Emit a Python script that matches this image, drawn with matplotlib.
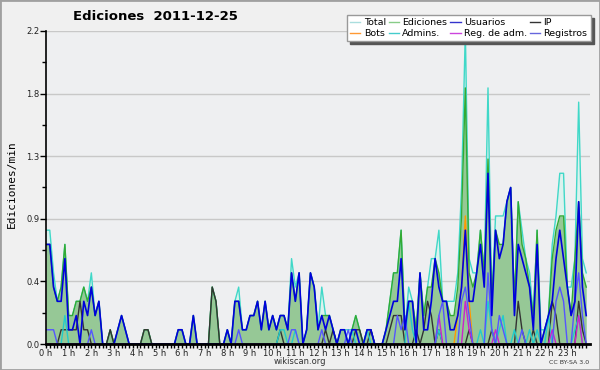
import numpy as np
import matplotlib.pyplot as plt
from matplotlib.lines import Line2D
from matplotlib.patches import Rectangle

# Ediciones por minuto, intervalos de 10 minutos (144 por dia)
total = [0.8, 0.8, 0.5, 0.3, 0.4, 0.7, 0.2, 0.2, 0.3, 0.3, 0.4, 0.3,
         0.5, 0.2, 0.3, 0, 0, 0.1, 0, 0.1, 0.2, 0.1, 0, 0,
         0, 0, 0.1, 0.1, 0, 0, 0, 0, 0, 0, 0, 0.1,
         0.1, 0, 0, 0.2, 0, 0, 0, 0, 0.4, 0.3, 0, 0,
         0.1, 0, 0.3, 0.4, 0.1, 0.1, 0.2, 0.2, 0.3, 0.1, 0.3, 0.1,
         0.2, 0.1, 0.2, 0.2, 0.1, 0.6, 0.4, 0.5, 0, 0.1, 0.5, 0.4,
         0.1, 0.4, 0.2, 0.2, 0.1, 0, 0.1, 0.1, 0.1, 0.1, 0.2, 0.1,
         0, 0.1, 0.1, 0, 0, 0, 0.1, 0.3, 0.5, 0.5, 0.8, 0.1,
         0.4, 0.3, 0.1, 0.5, 0.2, 0.4, 0.6, 0.6, 0.8, 0.3, 0.3, 0.3,
         0.3, 0.5, 1.1, 2.2, 0.6, 0.5, 0.5, 0.8, 0.5, 1.8, 0.3, 0.9,
         0.9, 0.9, 1.0, 1.1, 0.3, 1.0, 0.8, 0.6, 0.5, 0.2, 0.8, 0.1,
         0.1, 0.2, 0.7, 0.9, 1.2, 1.2, 0.4, 0.4, 0.6, 1.7, 0.6, 0.5]

ediciones = [0.7, 0.7, 0.4, 0.3, 0.4, 0.7, 0.2, 0.2, 0.3, 0.3, 0.4, 0.3,
             0.4, 0.2, 0.3, 0, 0, 0.1, 0, 0.1, 0.2, 0.1, 0, 0,
             0, 0, 0.1, 0.1, 0, 0, 0, 0, 0, 0, 0, 0.1,
             0.1, 0, 0, 0.2, 0, 0, 0, 0, 0.4, 0.3, 0, 0,
             0.1, 0, 0.3, 0.3, 0.1, 0.1, 0.2, 0.2, 0.3, 0.1, 0.3, 0.1,
             0.2, 0.1, 0.2, 0.2, 0.1, 0.5, 0.3, 0.5, 0, 0.1, 0.5, 0.4,
             0.1, 0.2, 0.2, 0.2, 0.1, 0, 0.1, 0.1, 0, 0.1, 0.2, 0.1,
             0, 0.1, 0.1, 0, 0, 0, 0.1, 0.3, 0.5, 0.5, 0.8, 0.1,
             0.3, 0.3, 0.1, 0.5, 0.2, 0.4, 0.4, 0.6, 0.5, 0.3, 0.3, 0.2,
             0.2, 0.4, 0.9, 1.8, 0.5, 0.4, 0.5, 0.8, 0.5, 1.3, 0.3, 0.8,
             0.7, 0.7, 1.0, 1.1, 0.3, 1.0, 0.7, 0.6, 0.4, 0.2, 0.8, 0,
             0.1, 0.2, 0.6, 0.8, 0.9, 0.9, 0.4, 0.2, 0.6, 1.0, 0.5, 0.4]

usuarios = [0.7, 0.7, 0.4, 0.3, 0.3, 0.6, 0.1, 0.1, 0.2, 0, 0.3, 0.2,
            0.4, 0.2, 0.3, 0, 0, 0, 0, 0.1, 0.2, 0.1, 0, 0,
            0, 0, 0, 0, 0, 0, 0, 0, 0, 0, 0, 0.1,
            0.1, 0, 0, 0.2, 0, 0, 0, 0, 0, 0, 0, 0,
            0.1, 0, 0.3, 0.3, 0.1, 0.1, 0.2, 0.2, 0.3, 0.1, 0.3, 0.1,
            0.2, 0.1, 0.2, 0.2, 0.1, 0.5, 0.3, 0.5, 0, 0.1, 0.5, 0.4,
            0.1, 0.2, 0.1, 0.2, 0.1, 0, 0.1, 0.1, 0, 0.1, 0.1, 0,
            0, 0.1, 0.1, 0, 0, 0, 0.1, 0.2, 0.3, 0.3, 0.6, 0.1,
            0.3, 0.3, 0, 0.5, 0.1, 0.1, 0.3, 0.6, 0.4, 0.3, 0.3, 0.1,
            0.1, 0.2, 0.4, 0.8, 0.3, 0.3, 0.5, 0.7, 0.4, 1.2, 0.2, 0.8,
            0.6, 0.7, 1.0, 1.1, 0.2, 0.7, 0.6, 0.5, 0.4, 0.1, 0.7, 0,
            0.1, 0.2, 0.3, 0.6, 0.8, 0.6, 0.4, 0.2, 0.3, 1.0, 0.4, 0.2]

ip = [0, 0, 0, 0, 0.1, 0.1, 0.1, 0.1, 0.1, 0.3, 0.1, 0.1,
      0, 0, 0, 0, 0, 0.1, 0, 0, 0, 0, 0, 0,
      0, 0, 0.1, 0.1, 0, 0, 0, 0, 0, 0, 0, 0,
      0, 0, 0, 0, 0, 0, 0, 0, 0.4, 0.3, 0, 0,
      0, 0, 0, 0, 0, 0, 0, 0, 0, 0, 0, 0,
      0, 0, 0.1, 0, 0, 0, 0, 0, 0, 0, 0, 0,
      0, 0, 0.1, 0, 0.1, 0, 0, 0, 0, 0, 0.1, 0.1,
      0, 0, 0.1, 0, 0, 0, 0, 0.1, 0.2, 0.2, 0.2, 0,
      0, 0, 0.1, 0, 0.1, 0.3, 0.2, 0, 0.1, 0, 0, 0,
      0, 0, 0, 0, 0.1, 0, 0, 0, 0, 0, 0.1, 0,
      0, 0, 0, 0, 0, 0.3, 0.1, 0, 0, 0.1, 0, 0,
      0, 0, 0.3, 0.2, 0, 0, 0, 0, 0, 0.3, 0.1, 0]

bots = [0] * 108 + [0, 0.2, 0.4, 0.9, 0.3, 0, 0, 0, 0, 0, 0, 0] + [0] * 24

admins = [0, 0, 0, 0, 0, 0.2, 0, 0, 0, 0, 0, 0,
          0, 0, 0, 0, 0, 0, 0, 0, 0, 0, 0, 0,
          0, 0, 0, 0, 0, 0, 0, 0, 0, 0, 0, 0,
          0, 0, 0, 0, 0, 0, 0, 0, 0, 0, 0, 0,
          0, 0, 0, 0, 0, 0, 0, 0, 0, 0, 0, 0,
          0, 0, 0.1, 0.1, 0, 0, 0.1, 0, 0, 0, 0, 0,
          0, 0, 0, 0, 0, 0, 0, 0, 0, 0.1, 0, 0,
          0, 0.1, 0, 0, 0, 0, 0, 0, 0, 0, 0, 0,
          0.3, 0.1, 0, 0, 0, 0, 0, 0, 0.1, 0, 0, 0,
          0, 0, 0, 0, 0, 0, 0, 0.1, 0, 0.3, 0.1, 0,
          0.1, 0.2, 0, 0, 0.1, 0, 0, 0, 0.1, 0, 0.1, 0,
          0, 0.2, 0, 0, 0, 0, 0, 0, 0.1, 0.2, 0, 0]

reg_adm = ([0] * 96 +
           [0, 0, 0, 0, 0, 0, 0, 0, 0.2, 0, 0, 0,
            0, 0, 0, 0.3, 0.1, 0, 0, 0, 0, 0, 0, 0.1,
            0, 0, 0, 0, 0, 0, 0, 0, 0, 0, 0, 0,
            0, 0, 0.1, 0, 0, 0, 0, 0, 0, 0.2, 0, 0])

registros = [0.1, 0.1, 0.1, 0, 0, 0, 0, 0, 0, 0, 0, 0,
             0.1, 0, 0, 0, 0, 0, 0, 0, 0, 0, 0, 0,
             0, 0, 0, 0, 0, 0, 0, 0, 0, 0, 0, 0,
             0, 0, 0, 0, 0, 0, 0, 0, 0, 0, 0, 0,
             0, 0, 0, 0.1, 0, 0, 0, 0, 0, 0, 0, 0,
             0, 0, 0, 0, 0, 0.1, 0.1, 0, 0, 0, 0, 0,
             0, 0.1, 0, 0, 0, 0, 0, 0, 0.1, 0, 0, 0,
             0, 0, 0, 0, 0, 0, 0, 0, 0, 0.2, 0.1, 0.2,
             0, 0, 0, 0, 0, 0, 0, 0, 0.2, 0.3, 0, 0,
             0, 0, 0.3, 0.4, 0.2, 0, 0, 0, 0, 0.5, 0.1, 0,
             0.2, 0.1, 0, 0, 0, 0, 0.1, 0, 0, 0, 0, 0,
             0, 0, 0, 0.3, 0.4, 0.3, 0, 0, 0.3, 0.5, 0.2, 0]

horas = [f"{h} h" for h in range(24)]
y_ticks = [0, 0.44, 0.88, 1.32, 1.76, 2.2]
y_labels = ["0.0", "0.4", "0.9", "1.3", "1.8", "2.2"]

x = np.arange(len(total)) / 6.0

fig = plt.figure(figsize=(6, 3.7), dpi=100, facecolor='#f0f0f0')
ax = fig.add_axes([46 / 600, 26 / 370, 544 / 600, 313 / 370])
ax.set_facecolor('#eeeff1')

# areas
ax.fill_between(x, total, color='#dcf2ee', lw=0)
ax.fill_between(x, ediciones, color='#96c896', lw=0)
ax.plot(x, total, color='#40d8c8', lw=1)
ax.plot(x, ediciones, color='#33aa33', lw=1)

# series de lineas
ax.plot(x, ip, color='#333333', lw=1)
ax.plot(x, admins, color='#22cccc', lw=1)
ax.plot(x, bots, color='#ff9900', lw=1)
ax.plot(x, reg_adm, color='#cc22cc', lw=1)
ax.plot(x, registros, color='#5555ff', lw=1)
ax.plot(x, usuarios, color='#0000dd', lw=1.2)

ax.set_xlim(0, 24)
ax.set_ylim(0, 2.2)
ax.set_yticks(y_ticks)
ax.set_yticklabels(y_labels)
ax.set_yticks(np.arange(0.22, 2.2, 0.44), minor=True)
ax.set_xticks(range(24))
ax.set_xticklabels(horas)
ax.set_xticks(np.arange(0, 24, 1 / 6), minor=True)
ax.grid(axis='y', which='major', color='#c8c8c8', lw=1)
ax.set_axisbelow(True)
ax.tick_params(axis='both', which='both', direction='out', length=3, width=1,
               color='black', labelsize=6, labelcolor='#222222', pad=0.5)
ax.tick_params(axis='y', which='major', length=4)
for s in ['top', 'right']:
    ax.spines[s].set_visible(False)
ax.spines['bottom'].set_linewidth(2)
ax.spines['left'].set_linewidth(1.2)

# textos
fig.text(155 / 600, 1 - 17 / 370, 'Ediciones  2011-12-25', ha='center', va='center',
         fontsize=9.5, fontweight='bold')
fig.text(12 / 600, 1 - 184 / 370, 'Ediciones/min', rotation=90, ha='center', va='center',
         family='DejaVu Sans Mono', fontsize=8)
fig.text(300 / 600, 1 - 362 / 370, 'wikiscan.org', ha='center', va='center',
         fontsize=6, color='#333333')
fig.text(589 / 600, 1 - 362 / 370, 'CC BY-SA 3.0', ha='right', va='center',
         fontsize=4.5, color='#333333')

# leyenda (orden por columnas para 2 filas)
nombres = ['Total', 'Bots', 'Ediciones', 'Admins.', 'Usuarios', 'Reg. de adm.', 'IP', 'Registros']
colores = ['#aadede', '#ff9933', '#88cc88', '#44cccc', '#3333cc', '#cc44dd', '#333333', '#6666dd']
handles = [Line2D([], [], color=c, lw=1) for c in colores]
leg = fig.legend(handles, nombres, loc='upper left', bbox_to_anchor=(342 / 600, 1 - 10 / 370),
                 ncol=4, fontsize=6.8, handlelength=1.1, handletextpad=0.35, columnspacing=0.3,
                 borderpad=0.35, labelspacing=0.2, fancybox=False, framealpha=1,
                 edgecolor='#999999', shadow={'color': '#555555', 'alpha': 1, 'ox': 2.2, 'oy': -2.2})

fig.patches.append(Rectangle((0, 0), 1, 1, transform=fig.transFigure, fill=False,
                             ec='#a0a0a0', lw=2))

fig.savefig('out.png', dpi=100, facecolor=fig.get_facecolor())
